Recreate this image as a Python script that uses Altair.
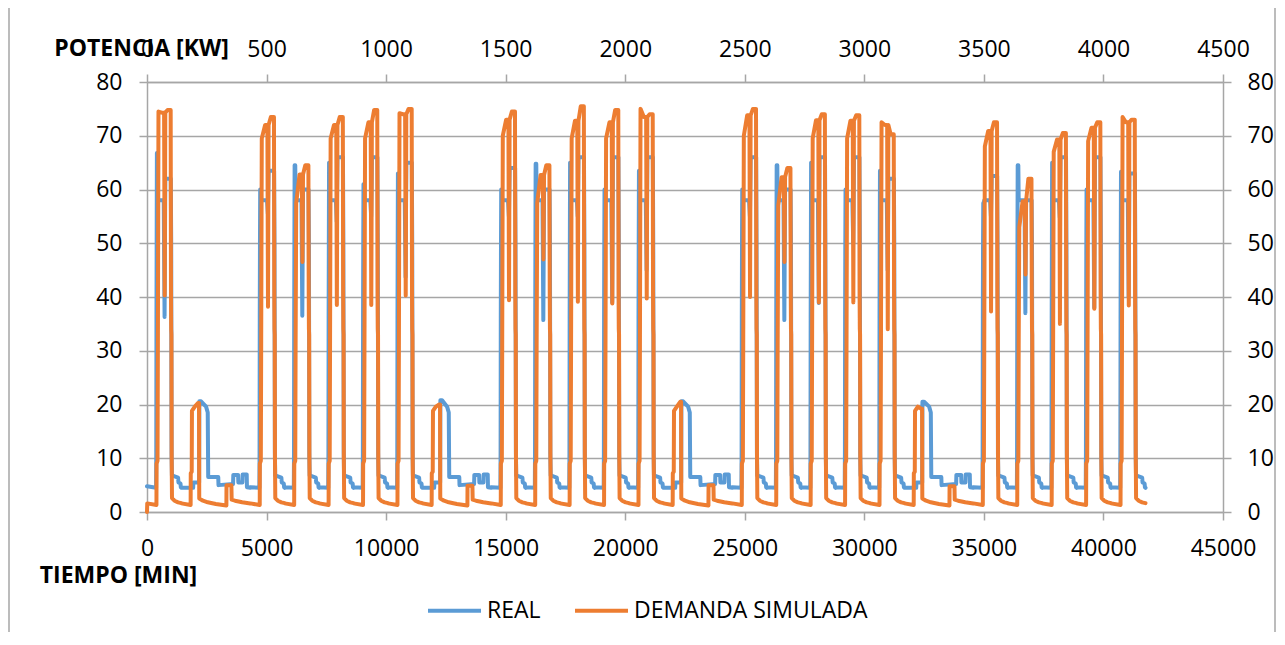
import altair as alt
import pandas as pd

# ---------------- data ----------------
# 29 days of 1440 min: W = working day, S = Saturday, D = Sunday
DAY_KIND = ["W", "S", "D", "W", "W", "W", "W", "W", "S", "D",
            "W", "W", "W", "W", "W", "S", "D", "W", "W", "W",
            "W", "W", "S", "D", "W", "W", "W", "W", "W"]

# working days (21), simulated demand (orange)
ORANGE_START = [74.5, 69.5, 57.5, 69.5, 69.5, 74.2, 70.0, 57.5, 69.5, 69.5, 75.0,
                70.0, 57.0, 69.5, 69.5, 72.5, 68.0, 53.0, 67.0, 69.0, 73.5]
ORANGE_TOP1 = [74.3, 72.0, 62.8, 72.0, 72.5, 74.0, 73.0, 62.7, 72.8, 72.5, 73.5,
               73.8, 62.3, 72.9, 72.8, 72.0, 70.9, 57.8, 69.3, 71.5, 72.5]
ORANGE_DIP = [40.3, 38.2, 46.5, 38.5, 38.5, 40.3, 39.4, 47.0, 39.1, 38.8, 39.7,
              40.0, 46.5, 39.0, 39.0, 34.0, 37.3, 44.2, 35.0, 37.8, 38.4]
ORANGE_TOP2 = [74.8, 73.5, 64.5, 73.5, 74.8, 75.0, 74.5, 64.5, 75.5, 74.8, 74.0,
               75.0, 64.0, 74.0, 73.8, 70.3, 72.5, 62.0, 70.5, 72.5, 73.0]
# working days (21), real (blue)
BLUE_TOP1 = [66.8, 60.0, 64.5, 65.0, 61.0, 63.0, 60.0, 64.8, 65.0, 60.0, 63.5,
             60.0, 64.5, 65.0, 60.0, 63.5, 57.5, 64.5, 65.0, 60.0, 63.3]
BLUE_DIP = [36.3, 55.5, 36.5, 54.0, 55.0, 43.7, 55.0, 35.7, 55.0, 39.0, 45.0,
            55.0, 35.7, 38.9, 50.0, 45.0, 55.0, 37.0, 54.8, 38.0, 40.0]
BLUE_TOP2 = [62.0, 63.5, 60.0, 66.0, 66.0, 65.0, 64.0, 60.0, 66.0, 66.0, 66.0,
             66.0, 60.0, 66.0, 66.0, 62.0, 62.5, 58.0, 66.0, 66.0, 63.0]
# weekends (4 weeks)
SAT_ORANGE = [20.3, 20.0, 20.5, 19.2]
SAT_BLUE = [20.6, 20.8, 20.6, 20.5]
SUN_ORANGE = [5.0, 4.9, 5.0, 4.8]

# daily shapes: (minute of the day, value or name of the day's value)
ORANGE_WORK = [(0, 1.6), (395, 1.3), (400, 9.0), (440, 9.5), (455, 31.0), (480, "a0"),
               (620, "a1"), (715, "a1"), (740, "dip"), (765, "a1"), (860, "a2"),
               (990, "a2"), (1003, 41.0), (1012, 34.0), (1022, 33.0), (1032, 10.0),
               (1045, 2.6), (1150, 2.1), (1300, 1.8), (1439, 1.65)]
BLUE_WORK = [(0, 4.6), (380, 4.5), (388, 11.0), (396, 36.0), (404, 49.0), (414, "b1"),
             (440, "b1"), (455, 58.0), (700, 58.0), (735, "bdip"), (765, "b2"),
             (995, "b2"), (1012, 50.0), (1028, 11.0), (1042, 6.8), (1300, 6.4),
             (1315, 5.5), (1400, 5.3), (1415, 4.6), (1439, 4.5)]
ORANGE_SAT = [(0, 1.6), (385, 1.3), (390, 7.2), (430, 7.5), (440, 18.8), (560, 19.6),
              (700, "s"), (735, "s"), (745, 2.5), (900, 2.1), (1100, 1.8), (1439, 1.5)]
BLUE_SAT = [(0, 4.5), (490, 4.5), (500, 5.5), (740, 5.5), (750, "s"), (820, "s"),
            (1030, 19.6), (1100, 18.5), (1120, 6.5), (1439, 6.5)]
ORANGE_SUN = [(0, 1.5), (440, 1.2), (445, "s"), (650, "s"), (660, 2.3), (800, 2.1),
              (1100, 1.8), (1439, 1.6)]
BLUE_SUN = [(0, 6.5), (100, 6.5), (110, 5.0), (720, 5.2), (730, 6.9), (930, 6.9),
            (940, 5.5), (1110, 5.5), (1120, 7.0), (1290, 7.0), (1300, 4.6), (1439, 4.5)]

X_TICKS = [0, 5000, 10000, 15000, 20000, 25000, 30000, 35000, 40000, 45000]
X2_TICKS = [0, 500, 1000, 1500, 2000, 2500, 3000, 3500, 4000, 4500]
Y_TICKS = [0, 10, 20, 30, 40, 50, 60, 70, 80]

# ---------------- build the tables ----------------
ot, ov, bt, bv = [], [], [], []
wi = si = di = 0
for d, kind in enumerate(DAY_KIND):
    base = d * 1440
    if kind == "W":
        po = {"a0": ORANGE_START[wi], "a1": ORANGE_TOP1[wi], "dip": ORANGE_DIP[wi], "a2": ORANGE_TOP2[wi]}
        pb = {"b1": BLUE_TOP1[wi], "bdip": BLUE_DIP[wi], "b2": BLUE_TOP2[wi]}
        to, tb = ORANGE_WORK, BLUE_WORK
        wi += 1
    elif kind == "S":
        po, pb = {"s": SAT_ORANGE[si]}, {"s": SAT_BLUE[si]}
        to, tb = ORANGE_SAT, BLUE_SAT
        si += 1
    else:
        po, pb = {"s": SUN_ORANGE[di]}, {}
        to, tb = ORANGE_SUN, BLUE_SUN
        di += 1
    for off, val in to:
        v = po[val] if isinstance(val, str) else val
        if d == 0 and off == 0:
            ot.append(0); ov.append(0.0)
            off = 10
        ot.append(base + off); ov.append(v)
    for off, val in tb:
        v = pb[val] if isinstance(val, str) else val
        if d == 0 and off == 0:
            v = 4.8
        bt.append(base + off); bv.append(v)

blue_df = pd.DataFrame({"t": bt, "v": bv, "serie": ["REAL"] * len(bt)})
orange_df = pd.DataFrame({"i": [t / 10 for t in ot], "v": ov,
                          "serie": ["DEMANDA SIMULADA"] * len(ot)})

GRAY = "#A6A6A6"
FONT = "Open Sans"
BLUE = "#5B9BD5"
ORANGE = "#ED7D31"

axis_common = dict(labelFont=FONT, labelFontSize=23, labelColor="#000000",
                   domainColor=GRAY, domainWidth=1.5, tickColor=GRAY, tickWidth=1.5,
                   tickSize=8, format="d", labelFlush=False, labelOverlap=False,
                   titleFont=FONT, titleFontSize=23, titleFontWeight="bold",
                   titleColor="#000000")

legend = alt.Legend(title=None, orient="none", direction="horizontal",
                    legendX=279, legendY=500, padding=0,
                    symbolType="stroke", symbolSize=2809, symbolStrokeWidth=3.8,
                    labelFont=FONT, labelFontSize=23, labelColor="#000000",
                    labelLimit=0, labelOffset=4, columnPadding=26)
color = alt.Color("serie:N",
                  scale=alt.Scale(domain=["REAL", "DEMANDA SIMULADA"], range=[BLUE, ORANGE]),
                  legend=legend)

blue = alt.Chart(blue_df).mark_line(strokeWidth=4, strokeJoin="round", strokeCap="round").encode(
    x=alt.X("t:Q", scale=alt.Scale(domain=[0, 45000], nice=False, zero=False),
            axis=alt.Axis(orient="bottom", values=X_TICKS, grid=False, labelPadding=17,
                          title="TIEMPO [MIN]", titleX=-29, titleY=63, titleAlign="center",
                          titleBaseline="middle", **axis_common)),
    y=alt.Y("v:Q", scale=alt.Scale(domain=[0, 80], nice=False),
            axis=alt.Axis(orient="left", values=Y_TICKS, grid=True, gridColor=GRAY, gridWidth=1.5,
                          labelPadding=17, title="POTENCIA [KW]", titleAngle=0, titleX=-6,
                          titleY=-34, titleAlign="center", titleBaseline="middle", **axis_common)),
    color=color,
)

orange = alt.Chart(orange_df).mark_line(strokeWidth=4, strokeJoin="round", strokeCap="round").encode(
    x=alt.X("i:Q", scale=alt.Scale(domain=[0, 4500], nice=False, zero=False),
            axis=alt.Axis(orient="top", values=X2_TICKS, grid=False, labelPadding=13,
                          title=None, **axis_common)),
    y=alt.Y("v:Q", scale=alt.Scale(domain=[0, 80], nice=False),
            axis=alt.Axis(orient="right", values=Y_TICKS, grid=False, labelPadding=16,
                          title=None, **axis_common)),
    color=color,
)

frame_df = pd.DataFrame({"k": [0]})
left_border = alt.Chart(frame_df).mark_rule(color=GRAY, strokeWidth=1.5).encode(
    x=alt.value(-138), y=alt.value(-74), y2=alt.value(550))
right_border = alt.Chart(frame_df).mark_rule(color=GRAY, strokeWidth=1.5).encode(
    x=alt.value(1128), y=alt.value(-74), y2=alt.value(550))

chart = alt.layer(blue, orange, left_border, right_border).resolve_scale(
    x="independent", y="independent"
).properties(
    width=1076, height=430,
    autosize=alt.AutoSizeParams(type="none"),
    padding={"left": 139, "top": 74, "right": 54, "bottom": 120},
    background="white",
).configure_view(stroke=None)

chart.save("out.html", embed_options={"renderer": "svg", "actions": False})
